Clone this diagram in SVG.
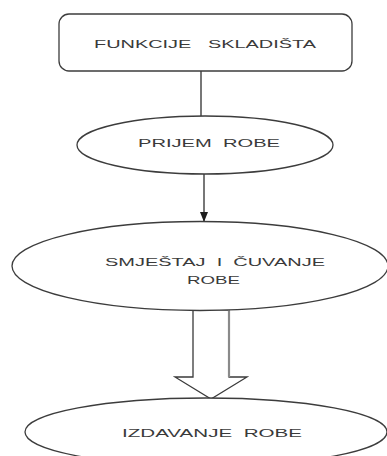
<svg xmlns="http://www.w3.org/2000/svg" width="387" height="456" viewBox="0 0 387 456">
<style>
.shape{fill:#ffffff;stroke:#3c3c3c;stroke-width:1.3}
.conn{fill:none;stroke:#2e2e2e;stroke-width:1.3}
.lbl{font-family:"Liberation Sans",Arial,sans-serif;font-size:11px;fill:#3a3a3a}
</style>
<defs>
<marker id="ah" markerWidth="10" markerHeight="8" refX="9" refY="4" orient="auto" markerUnits="userSpaceOnUse">
<path d="M0,0 L10,4 L0,8 Z" fill="#1e1e1e"/>
</marker>
</defs>
<rect width="387" height="456" fill="#ffffff"/>
<g id="connectors">
<line class="conn" x1="201" y1="71" x2="201" y2="116"/>
<line class="conn" x1="204" y1="174" x2="204" y2="221" marker-end="url(#ah)"/>
<polygon class="shape" points="193,310 193,377 175,377 211,399 247,377 229,377 229,310" style="stroke:#3a3a3a"/>
<line x1="229" y1="310" x2="229" y2="377" stroke="#8a8a8a" stroke-width="2.2"/>
</g>
<g id="node-funkcije">
<rect class="shape" x="59" y="14" width="293" height="57" rx="10" ry="10"/>
<text class="lbl" x="94" y="48" textLength="222" lengthAdjust="spacingAndGlyphs" xml:space="preserve">FUNKCIJE   SKLADIŠTA</text>
</g>
<g id="node-prijem">
<ellipse class="shape" cx="205" cy="145" rx="128" ry="29"/>
<text class="lbl" x="138" y="147" textLength="142" lengthAdjust="spacingAndGlyphs" xml:space="preserve">PRIJEM  ROBE</text>
</g>
<g id="node-smjestaj">
<ellipse class="shape" cx="200" cy="266" rx="188" ry="44.5"/>
<text class="lbl" xml:space="preserve"><tspan x="105" y="266" textLength="220" lengthAdjust="spacingAndGlyphs">SMJEŠTAJ  I  ČUVANJE</tspan><tspan x="187" y="284" textLength="53" lengthAdjust="spacingAndGlyphs">ROBE</tspan></text>
</g>
<g id="node-izdavanje">
<ellipse class="shape" cx="206" cy="432" rx="181" ry="34"/>
<text class="lbl" x="122" y="437" textLength="180" lengthAdjust="spacingAndGlyphs" xml:space="preserve">IZDAVANJE  ROBE</text>
</g>
</svg>
